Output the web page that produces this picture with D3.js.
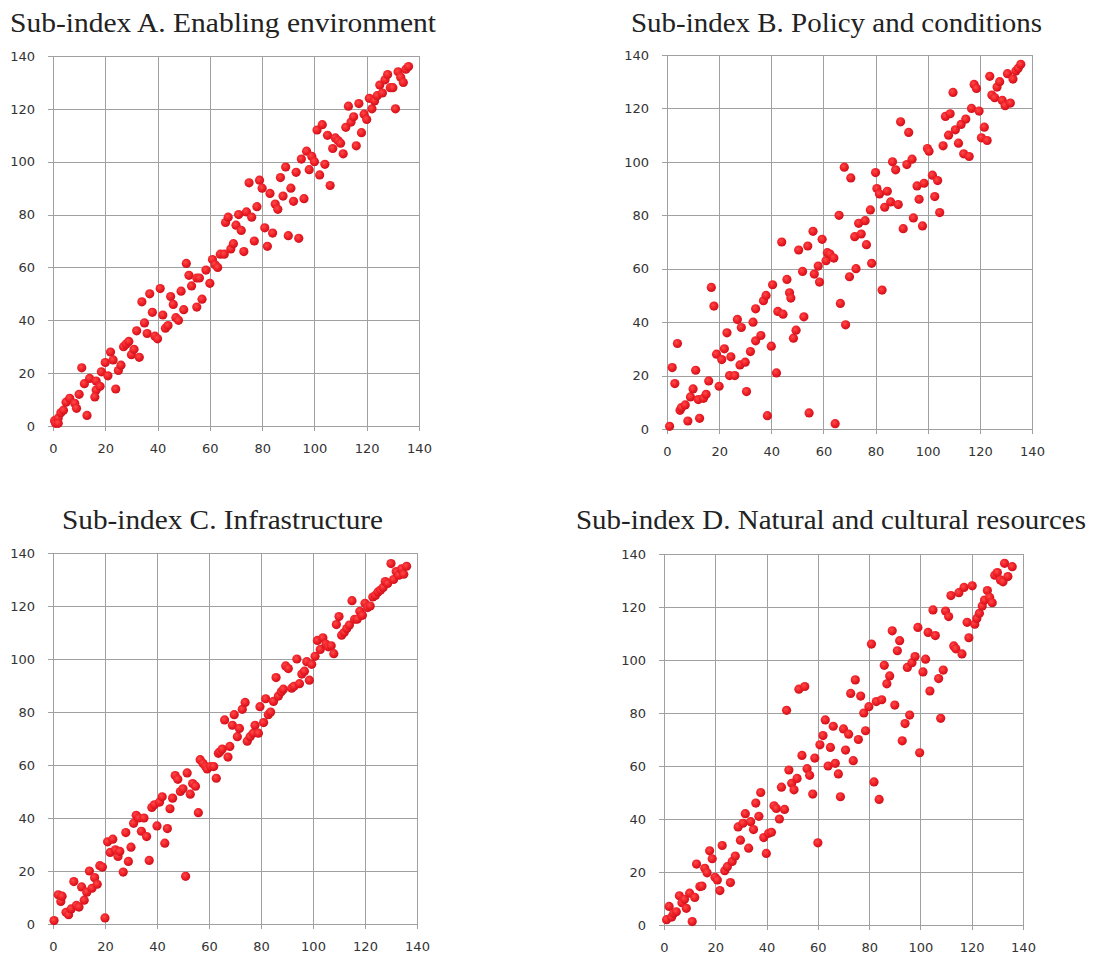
<!DOCTYPE html>
<html>
<head>
<meta charset="utf-8">
<script src="https://cdn.jsdelivr.net/npm/d3@7"></script>
<style>
  body { margin: 0; background: #fff; }
  svg { display: block; }
</style>
</head>
<body>
<svg id="chart" width="1104" height="956"></svg>
<script>
// axis ticks shared by every panel
const tickValues = [0, 20, 40, 60, 80, 100, 120, 140];

// Sub-index A
const aX = [0.6,1,2,2,3,4,5,6.4,8.3,9,10,11,12,13,14,16.5,16.5,16,18,18.5,20,21,22,23,24,25,26,27,28,29,30,31,32,33,34,35,36,37,38,39,40,41,42,43,44,45,46,47,48,49,50,51,52,53,55,55,56,57,58.5,60,61,62,63,64,65.5,66,67,68,69,70,71,72,73,74,75,76,77,78,79,80,81,82,83,84,85,86,87,88,89,90,91,92,93,94,95,96,97,98,99,100,101,102,103,104,105,106,107,108,109,110,111,112,113,114,115,116,117,118,119,120,121,122,123,124,125,126,127,128,129,130,131,132,133,134,135,136];
const aY = [2,1,3,1,5,6,9,10.5,8.6,6.7,12,22,16,4,18,17,13.6,11,15,20.5,24,19,28,25,14,21,23,30,31,32,27,29,36,26,47,39,35,50,43,34,33,52,42,37,38,49,46,41,40,51,44,61.5,57,53,56,45,56,48,59,54,63,61,60,65,65,77,79,67,69,76,80,74,66,81,92,79,70,83,93,90,75,68,88,73,84,82,94,87,98,72,90,85,96,71,101,86,104,97,102,100,112,95,114,99,110,91,105,109,108,107,103,113,121,115,117,106,122,111,118,116,124,120,123,125,129,126,131,133,128,128,120,134,132,130,135,136];

// Sub-index B
const bX = [1,2,3,4,5,5.5,7,8,9,10,11,12,12.5,14,15,16,17,18,19,20,21,22,23,24,24.5,26,27,28,28.5,30,30.5,32,33,34,34,36,37,38,38.5,40,40.5,42,42.5,44,44.5,46,47,47.5,48.5,49.5,50.5,52,52.5,54,54.5,56,56.5,58,58.5,59.5,61,61.5,62.5,64,64.5,66,66.5,68,68.5,70,70.5,72,72.5,73.5,74.5,76,76.5,78,78.5,80,80.5,81.5,82.5,83.5,84.5,85.8,86.5,87.7,88.7,89.6,90.6,92,92.7,94,94.5,95.9,96.7,98,98.6,99.9,100.5,101.8,102.7,103.8,104.6,105.9,106.8,108,108.6,109.7,110.6,111.8,112.8,113.8,114.6,115.9,116.8,117.8,118.7,119.7,120.6,121.7,122.8,123.8,124.6,125.7,126.6,127.6,128.6,129.7,130.6,131.7,132.7,133.8,134.7,135.7];
const bY = [1,23,17,32,7,8,9,3,12,15,22,11,4,11.5,13,18,53,46,28,16,26,30,36,20,27,20,41,24,38,25,14,29,40,45,33,35,48,50,5,31,54,21,44,70,43,56,51,49,34,37,67,59,42,68.5,6,74,58,61,55,71,63,66,65.5,64,2,80,47,98,39,57,94,72,60,77,73,78,69,82,62,96,90,88,52,83,89,85,100,97,84,115,75,99,111,101,79,91,86,76,92,105,104,95,87,93,81,106,117,110,118,126,112,107,114,103,116,102,120,129,127.5,119,109,113,108,132,125,124,128,130,123,121,133,122,131,134,135,136.5];

// Sub-index C
const cX = [0.4,2,3,3.5,5,6,7,8,9,10,11,12,13,14,15,16,17,18,19,20,21,22,23,24,25,25.7,27,28,29,30,31,32,33,34,35,36,37,38,39,40,41,42,43,44,45,46,47,48,49,50,51,51.6,52.8,53.7,54.8,55.9,56.6,57.7,58.7,59.3,60.6,61.8,62.8,63.6,64.2,65.1,66,67.3,68,69,69.7,70.9,71.7,72.8,73.9,74.7,75.8,77,77.7,79,79.6,81,81.8,82.8,83.7,84.8,85.8,86.7,87.8,88.6,89.5,90.5,91.8,92.7,93.8,94.8,95.7,96.7,97.6,98.6,99.5,100.8,101.7,102.8,103.8,105,105.9,107,108,109,110,111,112,113,114,115,116,117,118,119,120,121,122,123,124,125,126,127,127.8,128.7,130,131,132,133,134,134.9,136];
const cY = [1.3,11,8.5,10.5,4.4,3.5,5.7,16,7,6.4,14,9,12,20,13.5,17.5,15,22,21.5,2.3,31,27,32,28,25.5,27.4,19.6,34.5,23.6,29,38,41,40,35,40,33,24,44,45,37,46,48,30.5,36,43.5,47.5,56,54.6,50,51,18,57,49,53,52,42,62,60.6,59.4,58.5,59.4,59.4,55,64.4,65,66,77,63,67,75,79,70.7,73.8,81,83.6,69,70.7,72,75,72,82,76,85,79,80,84,93,86,87.6,88.6,97.4,96.4,89,89.7,100,90.7,94.3,95.4,99,92,98,101,107,103.6,108,105.6,104.6,105,102,113,116,109,110,111.5,112.8,122,115,115,118,116.5,121,119.4,120,123.4,124,125.3,126,127,129.2,128.5,136,130,133,131.6,134,132,135];

// Sub-index D
const dX = [1,2,3,3.8,4.8,6,7,8,8.7,10,11,12,12.7,14,14.8,15.9,16.8,17.8,18.8,19.9,20.8,21.8,22.7,23.7,24.7,25.9,26.6,27.8,28.9,29.8,30.8,31.7,33,33.8,34.9,35.8,37,37.7,38.9,39.9,40.8,41.9,42.9,43.8,45,45.8,47,47.8,48.7,49.8,50.7,51.9,52.6,53.8,54.9,55.8,56.8,58,58.8,60,60.8,62,62.9,64,64.9,66,66.8,68,68.8,70,70.8,72,72.8,73.8,74.6,75.8,76.7,77.9,78.6,79.9,80.9,81.9,82.8,83.9,84.9,85.9,86.9,88,89,90,91,91.9,92.9,94,94.9,95.8,96.7,97.9,99,99.7,101,102,103,103.7,104.9,105.8,107.1,107.9,108.9,109.8,111,111.9,113,113.8,115,116.2,117,118.2,118.9,120.2,121.2,122,123,124.1,125,126.1,127,128,129,130,131.2,132.2,132.8,134.1,135.8];
const dY = [2,7,3,4.4,5,11,8.4,9.7,6.3,12,1.3,10.4,23,14.5,14.7,21.4,19.7,28,25,18,17,13,30,20.5,22,16,24,26,37,32,38.4,42,29,39,36,46,41,50,33,27,34.6,35,45,44,40,52,43.6,81,58.5,53.5,51,55.3,89,64,90,59,56.5,49.4,63,31,68,71.5,77.4,60,67,75,61,57,48.4,74,66,72,87.4,62,92.5,70,86.4,80,73.3,82.4,106,54,84.3,47.4,85,98,91,94,111,83,103.5,107.3,69.5,76,97.2,79.2,99,101.3,112.3,65,95.5,100.3,110.4,88.3,118.9,109.2,93,78,96.2,118.5,116.4,124.3,105.3,104.2,125.4,102.3,127.4,114.2,108.4,128,113.5,115.7,117.6,120.4,122.6,126.2,123.6,121.6,132,133,130.2,129.5,136.5,131.5,135.2];

const titles = [
  "Sub-index A. Enabling environment",
  "Sub-index B. Policy and conditions",
  "Sub-index C. Infrastructure",
  "Sub-index D. Natural and cultural resources"
];

// plot boxes and title placement for each panel
const panels = [
  { xs: aX, ys: aY, left: 53,  right: 419,  top: 56,  bottom: 426, tx: 10,  tw: 426, ty: 32 },
  { xs: bX, ys: bY, left: 667, right: 1032, top: 55,  bottom: 429, tx: 631, tw: 411, ty: 32 },
  { xs: cX, ys: cY, left: 53,  right: 417,  top: 553, bottom: 924, tx: 62,  tw: 321, ty: 529 },
  { xs: dX, ys: dY, left: 664, right: 1023, top: 554, bottom: 925, tx: 576, tw: 510, ty: 529 }
];

const svg = d3.select('#chart');

// slightly glossy red dot like the original spreadsheet markers
const grad = svg.append('defs').append('radialGradient')
  .attr('id', 'dot').attr('cx', '40%').attr('cy', '38%').attr('r', '65%');
grad.append('stop').attr('offset', '0%').attr('stop-color', '#ff4a4a');
grad.append('stop').attr('offset', '60%').attr('stop-color', '#ec1c24');
grad.append('stop').attr('offset', '100%').attr('stop-color', '#c8101a');

panels.forEach((p, i) => {
  const w = p.right - p.left;
  const h = p.bottom - p.top;
  const x = d3.scaleLinear().domain([0, 140]).range([p.left, p.right]);
  const y = d3.scaleLinear().domain([0, 140]).range([p.bottom, p.top]);

  svg.append('text')
    .attr('x', p.tx).attr('y', p.ty)
    .attr('textLength', p.tw).attr('lengthAdjust', 'spacingAndGlyphs')
    .style('font-family', '"Liberation Serif", serif')
    .style('font-size', '27px')
    .style('fill', '#222')
    .text(titles[i]);

  // horizontal grid + y labels, ticks poke 5px out to the left
  const gy = svg.append('g')
    .attr('transform', `translate(${p.left - 5},0)`)
    .call(d3.axisLeft(y).tickValues(tickValues).tickSizeInner(-(w + 5)).tickSizeOuter(0).tickPadding(13));

  // vertical grid + x labels
  const gx = svg.append('g')
    .attr('transform', `translate(0,${p.bottom + 5})`)
    .call(d3.axisBottom(x).tickValues(tickValues).tickSizeInner(-(h + 5)).tickSizeOuter(0).tickPadding(13));

  [gx, gy].forEach(g => {
    g.select('.domain').remove();
    g.selectAll('line').attr('stroke', '#a0a0a0').attr('stroke-width', 1).attr('shape-rendering', 'crispEdges');
    g.selectAll('text')
      .style('font-family', '"DejaVu Sans", sans-serif')
      .style('font-size', '13px')
      .style('fill', '#333');
  });

  const pts = p.xs.map((v, k) => [v, p.ys[k]]);
  svg.append('g').selectAll('circle')
    .data(pts)
    .join('circle')
    .attr('cx', d => x(d[0]))
    .attr('cy', d => y(d[1]))
    .attr('r', 4.6)
    .attr('fill', 'url(#dot)');
});
</script>
</body>
</html>
